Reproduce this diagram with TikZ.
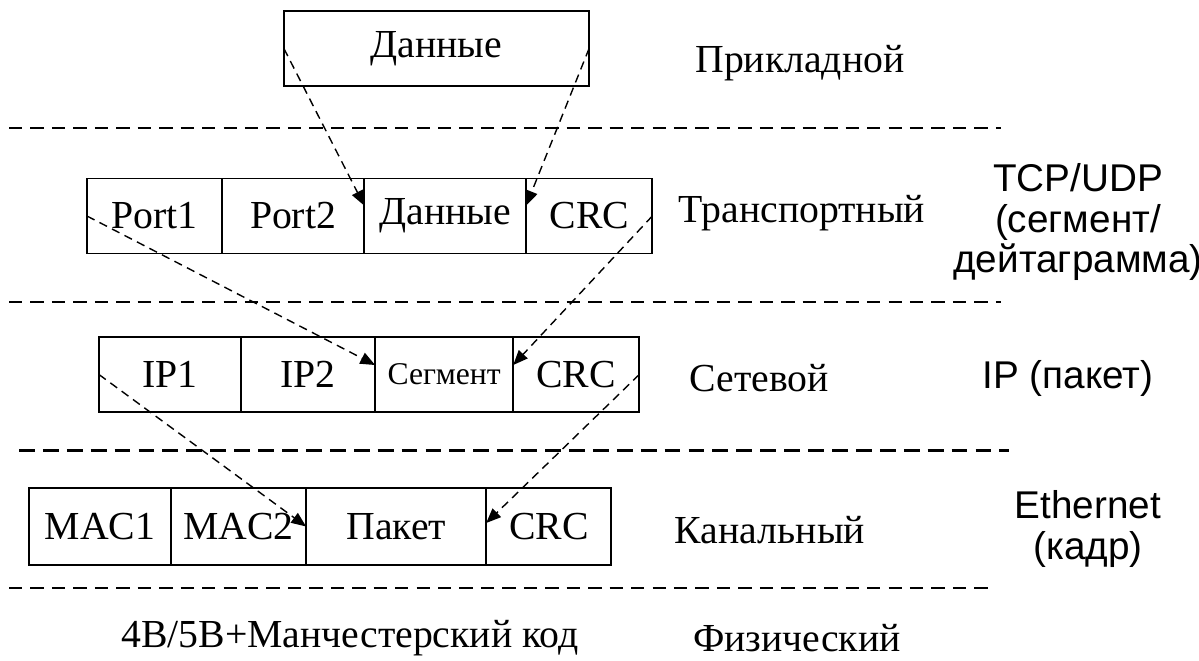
\documentclass[tikz,border=0pt]{standalone}
\usepackage{fontspec}
\setmainfont{Liberation Serif}
\setsansfont{Liberation Sans}
\usetikzlibrary{arrows.meta,positioning}

\begin{document}
\begin{tikzpicture}[x=0.01cm, y=-0.01cm,
  font=\fontsize{11.3}{12}\selectfont,
  cell/.style={draw, line width=0.55pt, inner sep=0pt, outer sep=0pt,
    minimum height=0.75cm},
  move/.style={-{Triangle[length=4.2pt, width=3.4pt]}, line width=0.4pt,
    dash pattern=on 2.4pt off 1.6pt},
  layer/.style={line width=0.55pt, dash pattern=on 3.8pt off 2.3pt},
  proto/.style={font=\sffamily\fontsize{11}{11.4}\selectfont, align=center}
]
\useasboundingbox (0,0) rectangle (1199,660);

% application level
\node[cell, minimum width=3.05cm] (d0) at (436.5,48.5) {Данные};

% transport level
\node[cell, minimum width=1.35cm] (t1) at (154.5,216) {Port1};
\node[cell, minimum width=1.42cm, right=0pt of t1] (t2) {Port2};
\node[cell, minimum width=1.62cm, right=0pt of t2] (t3) {Данные};
\node[cell, minimum width=1.26cm, right=0pt of t3] (t4) {CRC};

% network level
\node[cell, minimum width=1.42cm] (s1) at (170,374.5) {IP1};
\node[cell, minimum width=1.34cm, right=0pt of s1] (s2) {IP2};
\node[cell, minimum width=1.38cm, right=0pt of s2] (s3) {\fontsize{9}{10}\selectfont Сегмент};
\node[cell, minimum width=1.26cm, right=0pt of s3] (s4) {CRC};

% link level
\node[cell, minimum width=1.42cm, minimum height=0.77cm] (k1) at (100,526.5) {MAC1};
\node[cell, minimum width=1.35cm, minimum height=0.77cm, right=0pt of k1] (k2) {MAC2};
\node[cell, minimum width=1.80cm, minimum height=0.77cm, right=0pt of k2] (k3) {Пакет};
\node[cell, minimum width=1.25cm, minimum height=0.77cm, right=0pt of k3] (k4) {CRC};

% encapsulation
\draw[move] (d0.west) -- ([yshift=3pt]t3.west);
\draw[move] (d0.east) -- ([yshift=3pt]t4.west);
\draw[move] (t1.west) -- ([yshift=2.7pt]s3.west);
\draw[move] (t4.east) -- ([yshift=2.7pt]s4.west);
\draw[move] (s1.west) -- (k3.west);
\draw[move] (s4.east) -- ([yshift=1pt]k4.west);

% borders between levels
\foreach \y/\a/\b in {128/9/1001, 302/9/1001, 588/9/990}
  \draw[layer] (\a,\y) -- (\b,\y);
\draw[layer, line width=0.85pt, dash pattern=on 4.5pt off 2.3pt] (19,450) -- (1009,450);

% level names
\node (l7) at (800,63) {Прикладной};
\node (l4) at (802,213) {Транспортный};
\node (l3) at (759,378) {Сетевой};
\node (l2) at (770,530) {Канальный};
\node (l1) at (797,638) {Физический};
\node (code) at (350,638) {4B/5B+Манчестерский код};

% protocol units
\node[proto] (tcp) at (1078,222) {TCP/UDP\\(сегмент/\\дейтаграмма)};
\node[proto] (ip) at (1068,378) {IP (пакет)};
\node[proto] (eth) at (1088,529) {Ethernet\\(кадр)};
\end{tikzpicture}
\end{document}
